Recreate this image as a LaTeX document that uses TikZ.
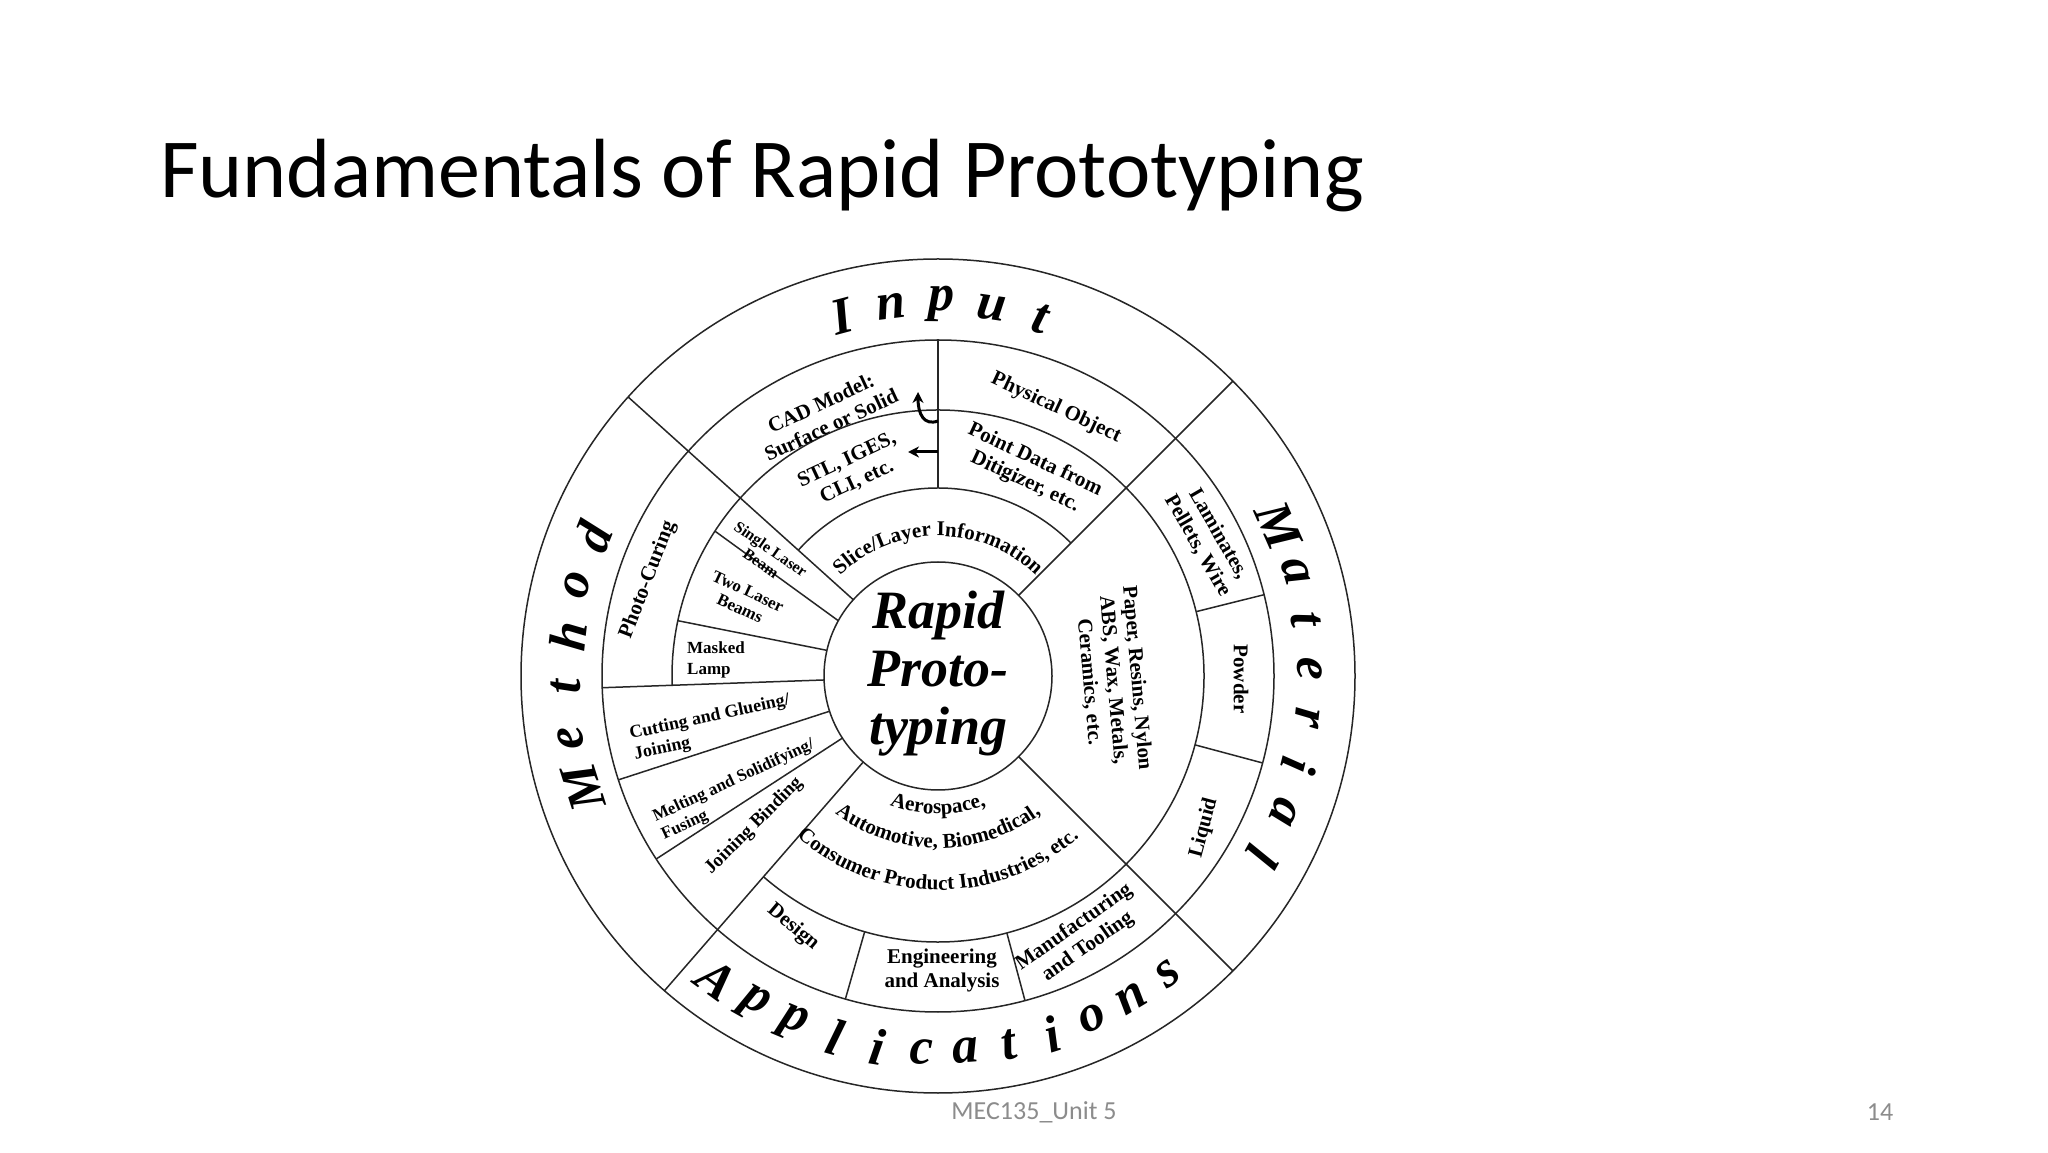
\documentclass[tikz,border=0pt]{standalone}
\usepackage{fontspec}
\usetikzlibrary{decorations.text,arrows.meta}
\newfontfamily\labf{Liberation Serif}
\newfontfamily\titf{Carlito}
\tikzset{
  lab/.style={font=\labf\bfseries\fontsize{21}{24}\selectfont, align=center, inner sep=0},
  big/.style={font=\labf\bfseries\itshape\fontsize{52}{60}\selectfont, inner sep=0},
  ring/.style={line width=1.5pt, draw=black!85},
  arr/.style={line width=3pt, -{Stealth[length=11pt,width=11pt]}},
}
\newcommand{\arctext}[4]{% radius, start, end, text
  \path[decorate, decoration={text along path, text align=center, text={#4}}] (#2:#1) arc (#2:#3:#1);}
\begin{document}
\begin{tikzpicture}[x=1pt,y=1pt]
\useasboundingbox (0,0) rectangle (2048,1152);
\fill[white] (0,0) rectangle (2048,1152);
\node[font=\titf\fontsize{84}{94}\selectfont, anchor=base west, inner sep=0] (title) at (160,954) {Fundamentals of Rapid Prototyping};
\node[font=\titf\fontsize{26}{30}\selectfont, text=black!45, inner sep=0] (foot) at (1034,40) {MEC135\_Unit 5};
\node[font=\titf\fontsize{26}{30}\selectfont, text=black!45, inner sep=0] (page) at (1880,40) {14};
\begin{scope}[shift={(938,476)}]
\coordinate (c) at (0,0);
% circles
\draw[ring] (c) circle (114);
\draw[ring] (c) circle (336);
\draw[ring] (c) circle (417);
\draw[ring] (-131:266) arc (-131:182:266);
\draw[ring] (45:188) arc (45:138:188);
% radial lines
\foreach \a in {45,138,229,315} \draw[ring] (\a:114) -- (\a:417);
\draw[ring] (90:188) -- (90:336);
\foreach \a in {182,198,213} \draw[ring] (\a:114) -- (\a:336);
\foreach \a in {254,285,14,345} \draw[ring] (\a:266) -- (\a:336);
\draw[ring] (147:266) -- (151:114);
\draw[ring] (168:266) -- (167:114);
% arrows
\coordinate (a1s) at (0,255);
\coordinate (a1e) at (-20,284);
\draw[arr] (a1s) .. controls (-14,250) and (-20,262) .. (a1e);
\coordinate (a2s) at (0,224);
\coordinate (a2e) at (-30,224);
\draw[arr] (a2s) -- (a2e);
% center
\node[big, font=\labf\bfseries\itshape\fontsize{54}{58}\selectfont, align=center] (rp) at (0,2) {Rapid\\Proto-\\typing};
% input ring labels
\node[lab, rotate=25] (cad) at (-112,262) {CAD Model:\\Surface or Solid};
\node[lab, rotate=-25] (phys) at (118,268) {Physical Object};
\node[lab, rotate=25] (stl) at (-86,205) {STL, IGES,\\CLI, etc.};
\node[lab, rotate=-25] (pt) at (92,205) {Point Data from\\Ditigizer, etc.};
\arctext{140}{140}{40}{|\labf\bfseries\fontsize{21}{24}\selectfont|Slice/Layer Information}
% material
\node[lab, rotate=-60] (lam) at (270,136) {Laminates,\\Pellets, Wire};
\node[lab, rotate=-90] (pow) at (303,-3) {Powder};
\node[lab, rotate=75] (liq) at (266,-152) {Liquid};
\node[lab, rotate=-85] (pap) at (175,-4) {Paper, Resins, Nylon\\ABS, Wax, Metals,\\Ceramics, etc.};
% method
\node[lab, rotate=69] (photo) at (-290,96) {Photo-Curing};
\node[lab, rotate=-35, font=\labf\bfseries\fontsize{16}{17}\selectfont] (sl) at (-172,120) {Single Laser\\Beam};
\node[lab, rotate=-25, font=\labf\bfseries\fontsize{17}{19}\selectfont] (tl) at (-194,76) {Two Laser\\Beams};
\node[lab, font=\labf\bfseries\fontsize{17}{21}\selectfont, align=left] (ml) at (-222,16) {Masked\\Lamp};
\node[lab, rotate=12, align=left, font=\labf\bfseries\fontsize{18}{21}\selectfont] (cut) at (-226,-52) {Cutting and Glueing/\\Joining};
\node[lab, rotate=25, align=left, font=\labf\bfseries\fontsize{17}{20}\selectfont] (melt) at (-200,-114) {Melting and Solidifying/\\Fusing};
\node[lab, rotate=45, font=\labf\bfseries\fontsize{19}{22}\selectfont] (join) at (-184,-150) {Joining Binding};
% applications
\arctext{138}{215}{325}{|\labf\bfseries\fontsize{21}{24}\selectfont|Aerospace,}
\arctext{172}{205}{335}{|\labf\bfseries\fontsize{21}{24}\selectfont|Automotive, Biomedical,}
\arctext{214}{200}{340}{|\labf\bfseries\fontsize{21}{24}\selectfont|Consumer Product Industries, etc.}
\node[lab, rotate=-40] (des) at (-145,-251) {Design};
\node[lab] (eng) at (4,-294) {Engineering\\and Analysis};
\node[lab, rotate=35] (man) at (143,-261) {Manufacturing\\and Tooling};
% outer letters
\foreach \l [count=\i from 0] in {I,n,p,u,t}
  \pgfmathsetmacro{\ang}{105-7.75*\i}
  \node[big, rotate=\ang-90] at (\ang:372) {\l};
\foreach \l [count=\i from 0] in {M,e,t,h,o,d}
  \pgfmathsetmacro{\ang}{197.5-7.9*\i}
  \node[big, rotate=\ang-90] at (\ang:372) {\l};
\foreach \l [count=\i from 0] in {M,a,t,e,r,i,a,l}
  \pgfmathsetmacro{\ang}{23.8-7.55*\i}
  \node[big, rotate=\ang-90] at (\ang:372) {\l};
\foreach \l [count=\i from 0] in {A,p,p,l,i,c,a,t,i,o,n,s}
  \pgfmathsetmacro{\ang}{234+6.7*\i}
  \node[big, rotate=\ang+90] at (\ang:376) {\l};
\end{scope}
\end{tikzpicture}
\end{document}
